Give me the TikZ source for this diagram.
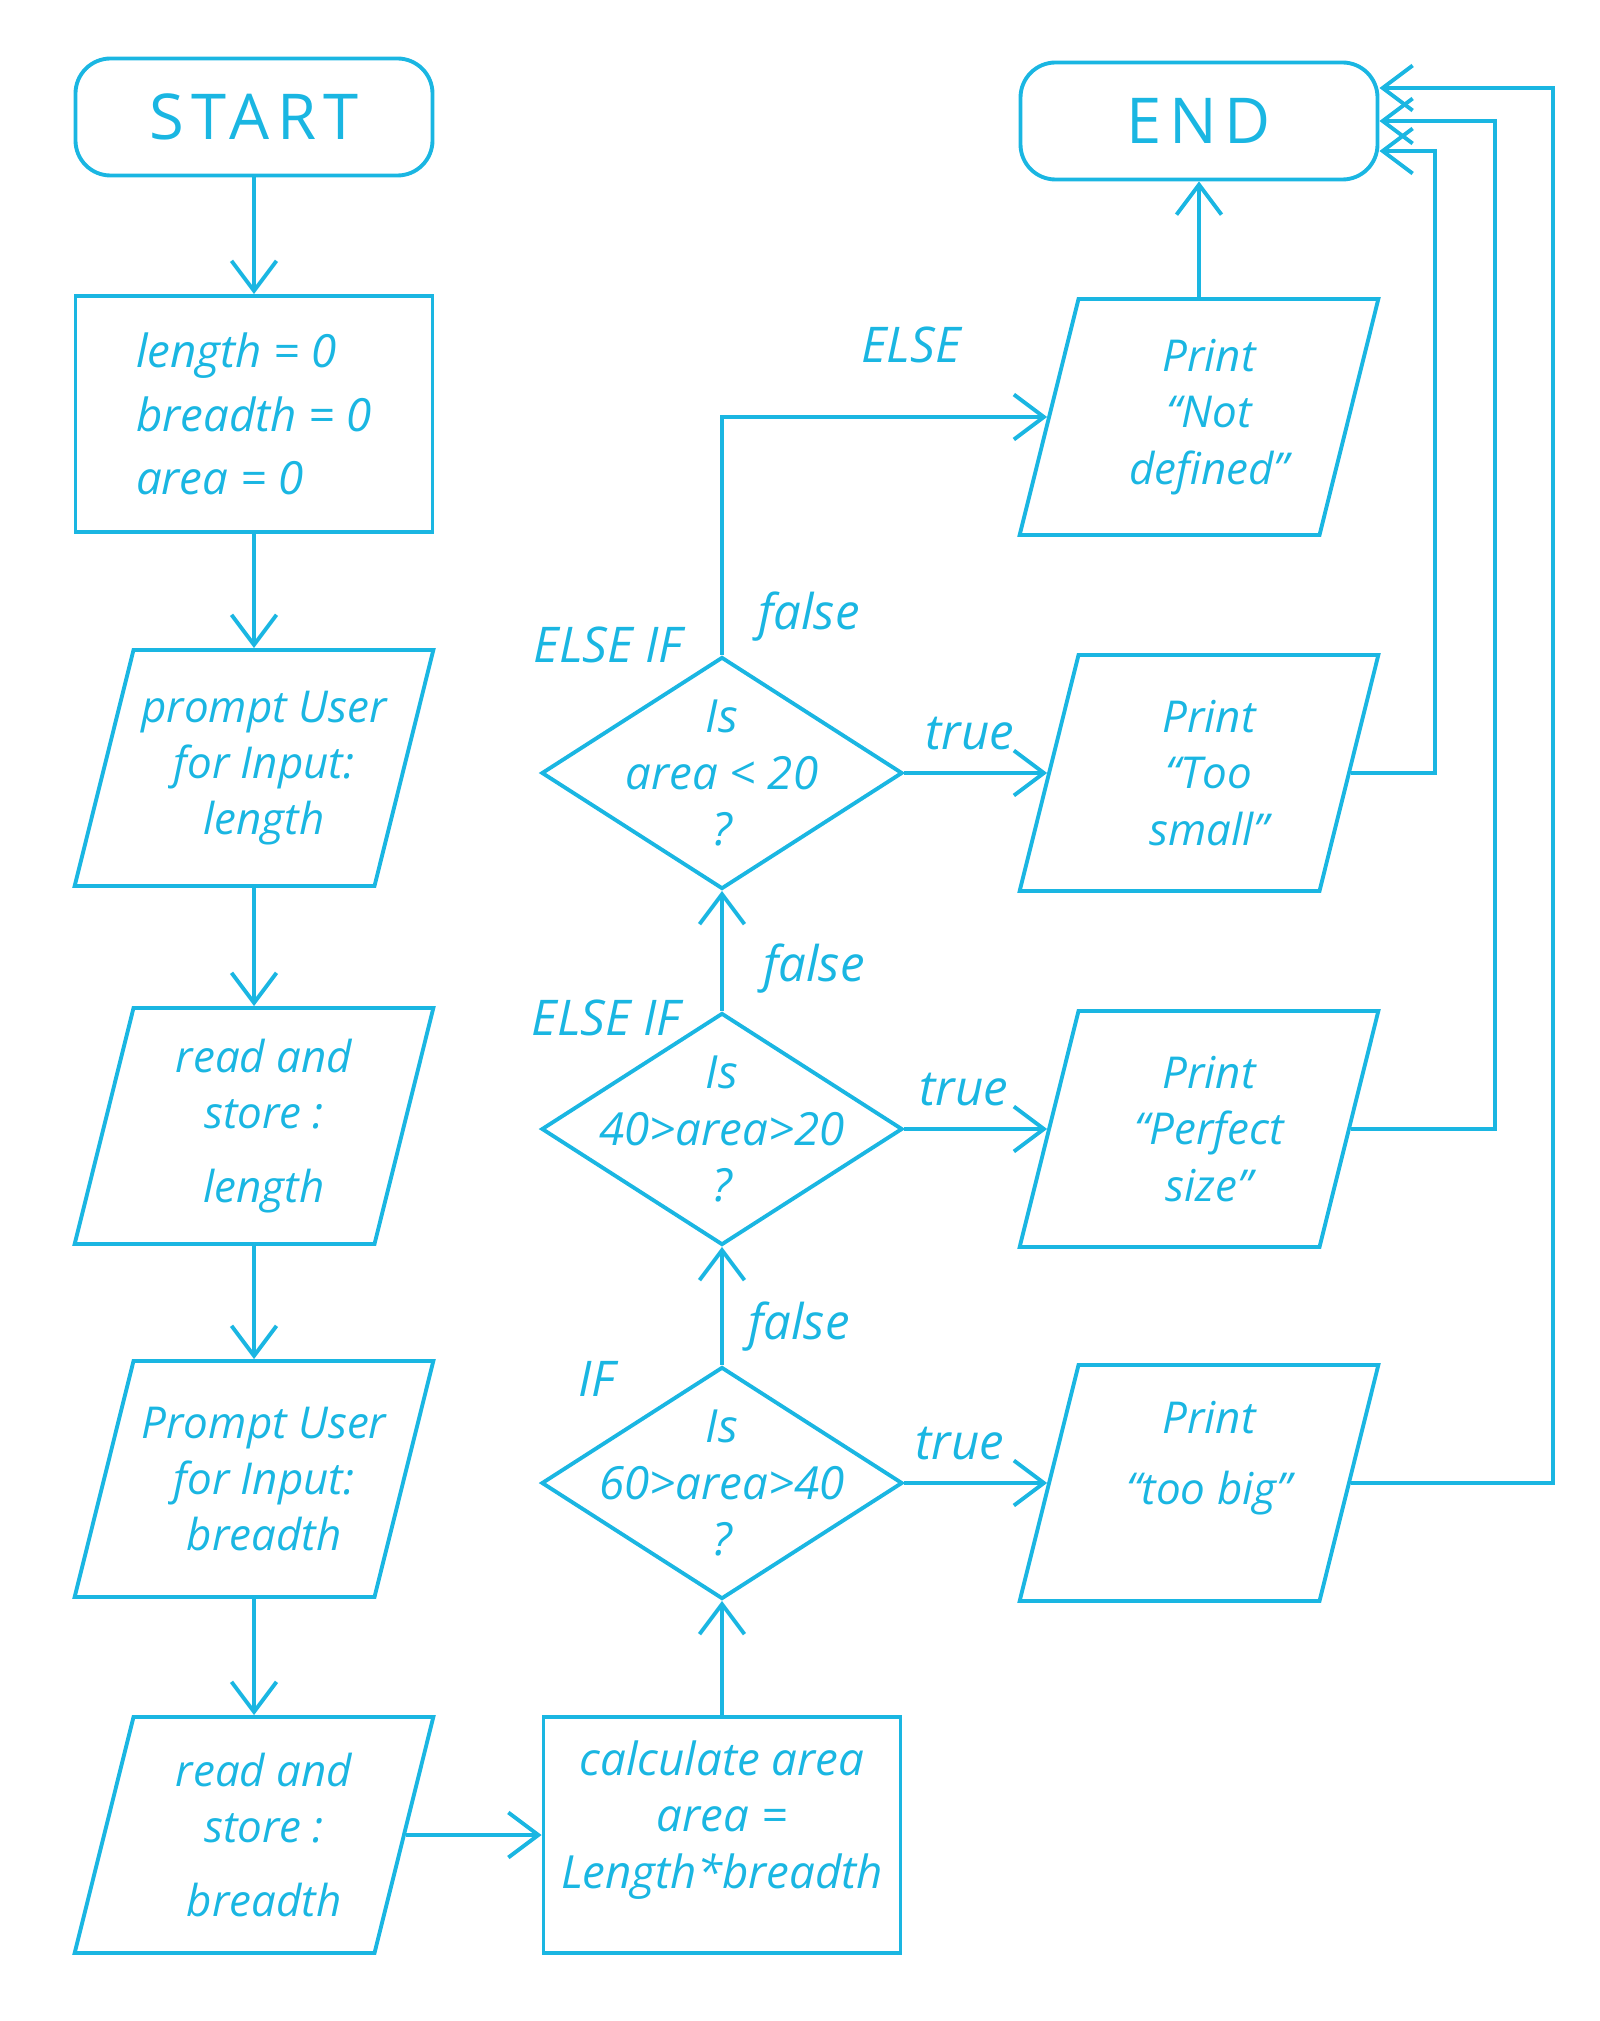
\documentclass[tikz,border=0pt]{standalone}
\usepackage{fontspec}
\setmainfont{Open Sans}
\usetikzlibrary{shapes.geometric,arrows.meta}
\definecolor{ink}{RGB}{26,182,226}

\begin{document}
\begin{tikzpicture}[
  inkline/.style={draw=ink, line width=1.1pt},
  terminal/.style={inkline, rectangle, rounded corners=0.35cm, minimum width=3.57cm, minimum height=1.17cm,
    text=ink, font=\fontsize{18}{20}\selectfont\addfontfeature{LetterSpace=12}},
  process/.style={inkline, rectangle, minimum width=3.57cm, minimum height=2.36cm, inner sep=0pt},
  io/.style={inkline, trapezium, trapezium left angle=76, trapezium right angle=104,
    text width=2.41cm, text height=1.18cm, text depth=1.18cm, inner sep=0pt},
  decision/.style={inkline, diamond, minimum width=3.61cm, minimum height=2.32cm, inner sep=0pt},
  txt/.style={text=ink, align=center, font=\itshape\fontsize{13}{16}\selectfont},
  iotxt/.style={txt, xshift=1mm, font=\itshape\fontsize{12.5}{16}\selectfont},
  lbl/.style={text=ink, font=\itshape\fontsize{14}{16}\selectfont},
  flow/.style={inkline, ->},
  >={Straight Barb[length=3mm,width=4.5mm]}
]
\useasboundingbox (0,0) rectangle (15.99,-20.21);

% left column
\node[terminal] (start) at (2.54,-1.17) {START};
\node[process, label={[txt, align=left]center:{length = 0\\[2pt]breadth = 0\\[2pt]area = 0}}] (init) at (2.54,-4.14) {};
\node[io, label={[iotxt]center:{prompt User\\for Input:\\length}}] (plen) at (2.54,-7.68) {};
\node[io, label={[iotxt]center:{read and\\store :\\[5pt]length}}] (rlen) at (2.54,-11.26) {};
\node[io, label={[iotxt]center:{Prompt User\\for Input:\\breadth}}] (pbre) at (2.54,-14.79) {};
\node[io, label={[iotxt]center:{read and\\store :\\[5pt]breadth}}] (rbre) at (2.54,-18.35) {};

% middle column
\node[process, label={[txt, yshift=1.5mm]center:{calculate area\\area =\\Length*breadth}}] (calc) at (7.22,-18.35) {};
\node[decision, label={[txt]center:{Is\\60>area>40\\?}}] (dbig) at (7.22,-14.83) {};
\node[decision, label={[txt]center:{Is\\40>area>20\\?}}] (dmid) at (7.22,-11.29) {};
\node[decision, label={[txt]center:{Is\\area < 20\\?}}] (dsmall) at (7.22,-7.73) {};

% right column
\node[terminal] (stop) at (11.99,-1.21) {END};
\node[io, label={[iotxt]center:{Print\\``Not\\defined''}}] (pnot) at (11.99,-4.17) {};
\node[io, label={[iotxt]center:{Print\\``Too\\small''}}] (psmall) at (11.99,-7.73) {};
\node[io, label={[iotxt]center:{Print\\``Perfect\\size''}}] (pperf) at (11.99,-11.29) {};
\node[io, label={[iotxt, yshift=2.5mm]center:{Print\\[4pt]``too big''}}] (pbig) at (11.99,-14.83) {};

\draw[flow] (start) -- (init);
\draw[flow] (init) -- (plen);
\draw[flow] (plen) -- (rlen);
\draw[flow] (rlen) -- (pbre);
\draw[flow] (pbre) -- (rbre);
\draw[flow] (rbre) -- (calc);
\draw[flow] (calc) -- (dbig);
\draw[flow] (dbig) -- (dmid);
\draw[flow] (dmid) -- (dsmall);
\draw[flow] (dsmall) |- (pnot.west);
\draw[flow] (dsmall) -- (psmall);
\draw[flow] (dmid) -- (pperf);
\draw[flow] (dbig) -- (pbig);
\draw[flow] (pnot) -- (stop);
\draw[flow] (psmall.east) -| (14.35,-1.51) -- ([yshift=-3mm]stop.east);
\draw[flow] (pperf.east) -| (14.95,-1.21) -- (stop.east);
\draw[flow] (pbig.east) -| (15.53,-0.88) -- ([yshift=3.3mm]stop.east);

\node[lbl] (elsetag) at (9.11,-3.45) {ELSE};
\node[lbl] (elseif1) at (6.08,-6.45) {ELSE IF};
\node[lbl] (false1) at (8.09,-6.17) {false};
\node[lbl] (true1) at (9.70,-7.34) {true};
\node[lbl] (elseif2) at (6.06,-10.18) {ELSE IF};
\node[lbl] (false2) at (8.14,-9.69) {false};
\node[lbl] (true2) at (9.64,-10.90) {true};
\node[lbl] (iftag) at (5.97,-13.79) {IF};
\node[lbl] (false3) at (7.99,-13.27) {false};
\node[lbl] (true3) at (9.60,-14.44) {true};
\end{tikzpicture}
\end{document}
